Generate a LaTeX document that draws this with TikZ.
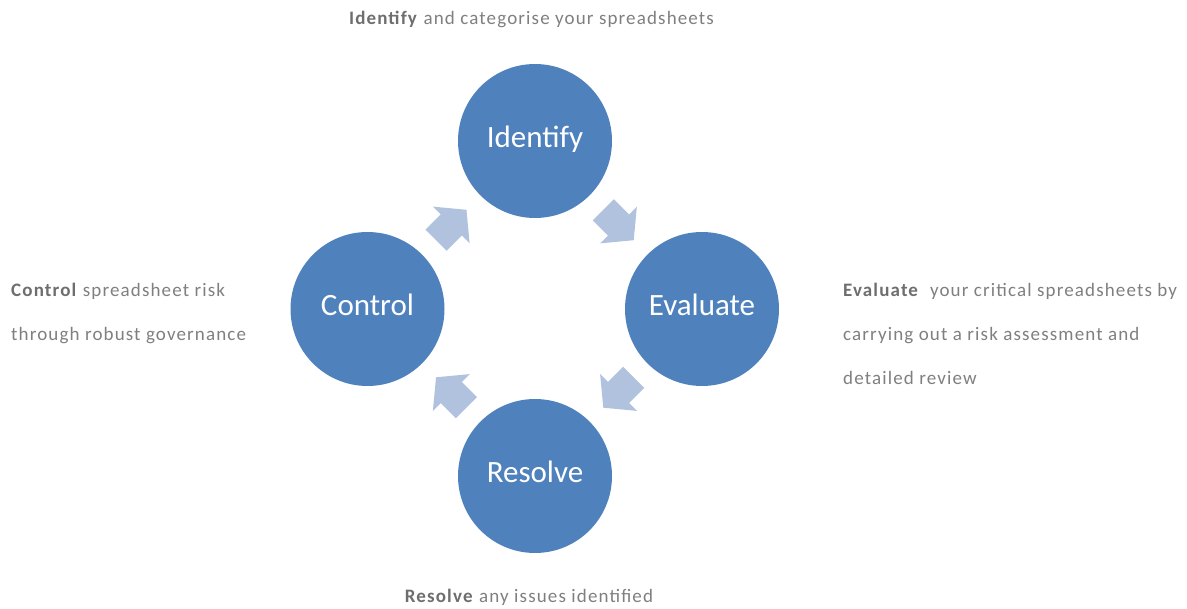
\documentclass[tikz,border=0pt]{standalone}
\usepackage{fontspec}
\setmainfont{Carlito}
\newfontfamily\descfont{Carlito}[LetterSpace=6]
\usetikzlibrary{calc}
\definecolor{circblue}{HTML}{4F81BD}
\definecolor{arrblue}{HTML}{B0C2DE}
\definecolor{txtgray}{HTML}{7F7F7F}
\definecolor{boldgray}{HTML}{6E6E6E}
\newcommand{\hl}[1]{\textcolor{boldgray}{\textbf{#1}}}
\tikzset{
  stage/.style={circle, fill=circblue, minimum size=154pt, inner sep=0pt},
  stagelabel/.style={text=white, font=\fontsize{31}{37}\selectfont, anchor=base, inner sep=0pt},
  desc/.style={text=txtgray, font=\descfont\fontsize{19}{44}\selectfont, inner sep=0pt},
  blockarrow/.pic={\fill[arrblue] (-21.5,15) -- (0,15) -- (0,26) -- (21.5,0) -- (0,-26) -- (0,-15) -- (-21.5,-15) -- cycle;}
}
\begin{document}
\begin{tikzpicture}[x=1pt,y=-1pt]
\useasboundingbox (0,0) rectangle (1187,609);
\node[stage] (id) at (535,141) {};
\node[stage] (ev) at (702,309) {};
\node[stage] (rs) at (535,476) {};
\node[stage] (ct) at (367.5,309) {};
\node[stagelabel] (idl) at ($(id.center)+(0,7)$) {Identify};
\node[stagelabel] (evl) at ($(ev.center)+(0,7)$) {Evaluate};
\node[stagelabel] (rsl) at ($(rs.center)+(0,7)$) {Resolve};
\node[stagelabel] (ctl) at ($(ct.center)+(0,7)$) {Control};
\path ($(id)!0.5!(ev)$) pic[rotate=-45] {blockarrow};
\path ($(ev)!0.5!(rs)$) pic[rotate=-135] {blockarrow};
\path ($(rs)!0.5!(ct)$) pic[rotate=135] {blockarrow};
\path ($(ct)!0.5!(id)$) pic[rotate=45] {blockarrow};
\node[desc, anchor=base] (d1) at (531.5,25) {\hl{Identify} and categorise your spreadsheets};
\node[desc, anchor=base west, align=left] (d2) at (11,341) {\hl{Control} spreadsheet risk\\through robust governance};
\node[desc, anchor=base west, align=left] (d3) at (843,385) {\hl{Evaluate}\ \ your critical spreadsheets by\\carrying out a risk assessment and\\detailed review};
\node[desc, anchor=base] (d4) at (529,602) {\hl{Resolve} any issues identified};
\end{tikzpicture}
\end{document}
